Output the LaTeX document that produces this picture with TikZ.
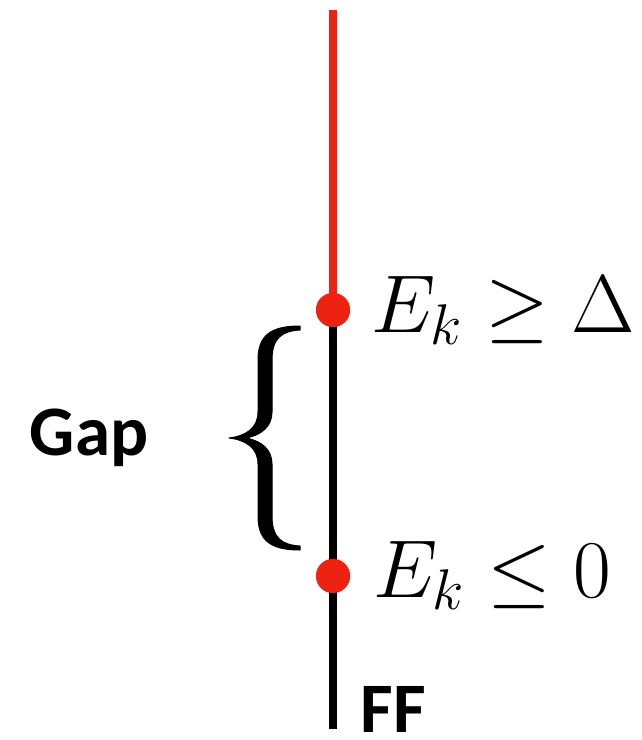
\RequirePackage{fix-cm}
\documentclass[tikz,border=0pt]{standalone}
\usepackage{fontspec}
\newfontfamily\carlitofont{Carlito}
\definecolor{dotred}{HTML}{EE2211}
\begin{document}
\begin{tikzpicture}[x=1pt,y=-1pt,
  dotstyle/.style={circle,fill=dotred,inner sep=0pt,minimum size=34pt},
  mathlabel/.style={anchor=base west,inner sep=0pt,font=\fontsize{82}{94}\selectfont},
  boldlabel/.style={anchor=base,inner sep=0pt,font=\carlitofont\bfseries\fontsize{71}{80}\selectfont},
  axis/.style={line width=8pt}]
\useasboundingbox (0,0) rectangle (641,740);
\coordinate (top) at (333,10);
\coordinate (bottom) at (333,729);
\node[dotstyle] (hi) at (333,310) {};
\node[dotstyle] (lo) at (333,576) {};
\draw[axis,dotred] (top) -- (hi.center);
\draw[axis,black] (hi.center) -- (bottom);
\node[dotstyle] at (hi) {};
\node[dotstyle] at (lo) {};
\node[mathlabel] (lhi) at (371,332) {$E_k \geq \Delta$};
\node[mathlabel] (llo) at (373,597) {$E_k \leq 0$};
% brace
\fill[black,line join=round,draw=black,line width=1pt]
  (300,326) .. controls (270,326) and (258,336) .. (258,360)
  -- (258,412) .. controls (258,428) and (246,436) .. (229,438)
  .. controls (246,440) and (258,448) .. (258,464)
  -- (258,516) .. controls (258,540) and (270,550) .. (300,550)
  -- (300,546) .. controls (282,545) and (272,538) .. (272,516)
  -- (272,464) .. controls (272,450) and (262,441) .. (246,438)
  .. controls (262,435) and (272,426) .. (272,412)
  -- (272,360) .. controls (272,338) and (282,331) .. (300,330) -- cycle;
\node[boldlabel] (gap) at (89,455) {Gap};
\node[boldlabel] (ff) at (393,732) {FF};
\end{tikzpicture}
\end{document}
